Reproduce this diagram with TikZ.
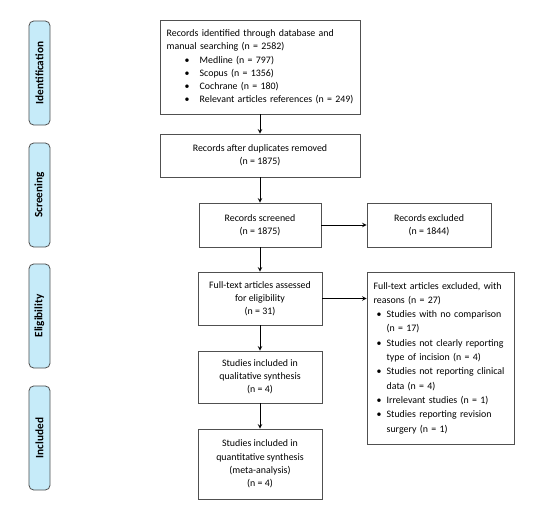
\documentclass[tikz,border=0pt]{standalone}
\usepackage{fontspec}
\setmainfont{Carlito}
\usetikzlibrary{positioning}
\definecolor{stagefill}{HTML}{C6EBF9}
\definecolor{boxline}{HTML}{505050}
% bullet line and its continuation
\newcommand{\bul}[1]{\mbox{\makebox[0.39cm][l]{\hspace{0.09cm}\textbullet}#1}}
\newcommand{\cont}[1]{\mbox{\hspace*{0.39cm}#1}}
\newcommand{\bulA}[1]{\mbox{\makebox[0.99cm][l]{\hspace{0.54cm}\textbullet}#1}}

\begin{document}
\begin{tikzpicture}[
    x=0.03cm, y=-0.03cm,
    font=\fontsize{8.45}{11.3}\selectfont,
    box/.style={rectangle, draw=boxline, line width=0.7pt, fill=white, text centered, inner sep=0.2cm},
    listbox/.style={rectangle, draw=boxline, line width=0.7pt, fill=white, align=left, inner xsep=0.2cm, inner ysep=0.15cm},
    stage/.style={rectangle, rounded corners=4pt, draw=boxline, line width=0.7pt, fill=stagefill, rotate=90, minimum width=3.12cm, minimum height=0.63cm, font=\fontsize{9.6}{11.3}\selectfont\bfseries},
    arrow/.style={line width=0.7pt, ->, >=stealth}
]
\useasboundingbox (0,0) rectangle (550,507);

% --- Stage labels ---
\node (ident) at (39.5, 73) [stage] {Identification};
\node (screen) at (39.5, 195) [stage] {Screening};
\node (elig) at (39.5, 316) [stage] {Eligibility};
\node (incl) at (39.5, 438) [stage] {Included};

% --- Main column ---
\node (search) at (260, 67) [listbox, minimum width=6cm, minimum height=2.82cm, text width=5.6cm] {Records identified through database and\\ manual searching (n = 2582)\\ \bulA{Medline (n = 797)}\\ \bulA{Scopus (n = 1356)}\\ \bulA{Cochrane (n = 180)}\\ \bulA{Relevant articles references (n = 249)}};
\node (dupl) at (260, 155.5) [box, minimum width=6cm, minimum height=1.29cm, align=center] {Records after duplicates removed\\ (n = 1875)};
\node (screened) at (260, 225) [box, minimum width=3.66cm, minimum height=1.32cm, align=center] {Records screened\\ (n = 1875)};
\node (fulltext) at (260, 298.5) [box, minimum width=3.72cm, minimum height=1.59cm, align=center] {Full-text articles assessed\\ for eligibility\\ (n = 31)};
\node (qual) at (260, 377) [box, minimum width=3.72cm, minimum height=1.56cm, align=center] {Studies included in\\ qualitative synthesis\\ (n = 4)};
\node (quant) at (260, 464) [box, minimum width=3.72cm, minimum height=2.1cm, align=center] {Studies included in\\ quantitative synthesis\\ (meta-analysis)\\ (n = 4)};

% --- Exclusions ---
\node (excl) at (429, 225) [box, minimum width=3.72cm, minimum height=1.32cm, align=center] {Records excluded\\ (n = 1844)};
\node (exclft) at (440.5, 358) [listbox, minimum width=4.41cm, minimum height=5.16cm, text width=4.01cm, font=\fontsize{8.45}{12.2}\selectfont] {Full-text articles excluded, with\\ reasons (n = 27)\\ \bul{Studies with no comparison}\\ \cont{(n = 17)}\\ \bul{Studies not clearly reporting}\\ \cont{type of incision (n = 4)}\\ \bul{Studies not reporting clinical}\\ \cont{data (n = 4)}\\ \bul{Irrelevant studies (n = 1)}\\ \bul{Studies reporting revision}\\ \cont{surgery (n = 1)}};

% --- Edges ---
\draw [arrow] (search) -- (dupl);
\draw [arrow] (dupl) -- (screened);
\draw [arrow] (screened) -- (fulltext);
\draw [arrow] (fulltext) -- (qual);
\draw [arrow] (qual) -- (quant);
\draw [arrow] (screened) -- (excl);
\draw [arrow] (fulltext.east) -- (fulltext.east -| exclft.west);

\end{tikzpicture}
\end{document}
